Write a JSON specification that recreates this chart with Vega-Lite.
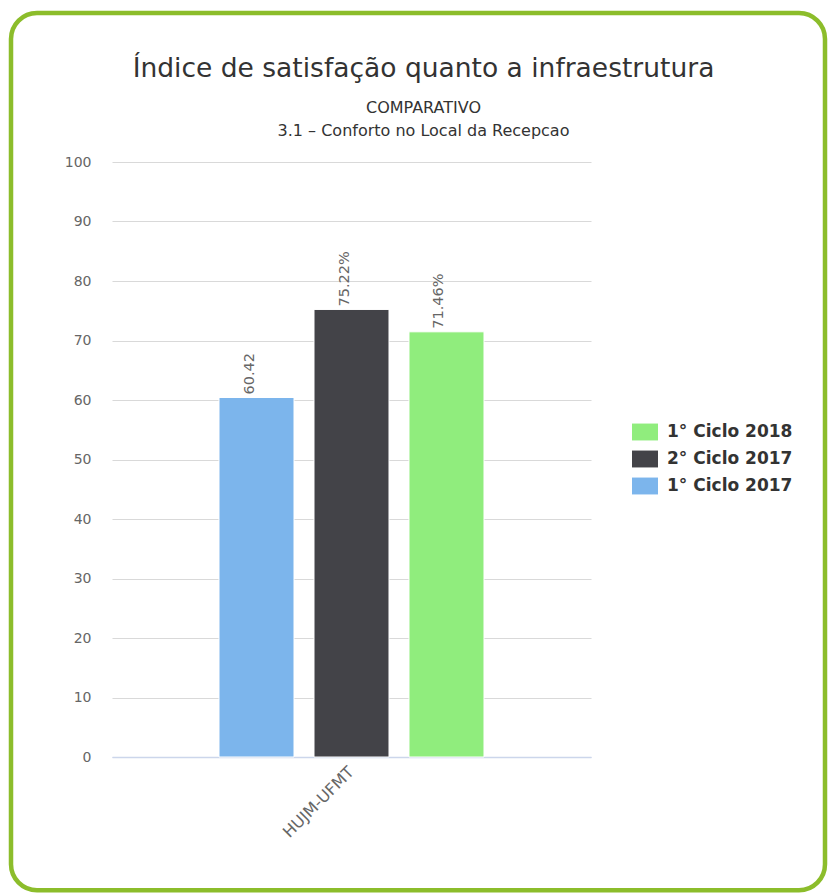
{
  "$schema": "https://vega.github.io/schema/vega-lite/v6.json",
  "width": 479,
  "height": 595,
  "padding": {"left": 8, "top": 10, "right": 0, "bottom": 0},
  "background": "white",
  "title": {
    "text": "Índice de satisfação quanto a infraestrutura",
    "subtitle": ["COMPARATIVO", "3.1 – Conforto no Local da Recepcao"],
    "anchor": "middle",
    "frame": "group",
    "dx": 72,
    "fontSize": 26.5,
    "fontWeight": "normal",
    "color": "#333333",
    "font": "DejaVu Sans",
    "subtitleFont": "DejaVu Sans",
    "subtitleFontSize": 16,
    "subtitleColor": "#333333",
    "subtitleLineHeight": 23,
    "subtitlePadding": 17,
    "offset": -128
  },
  "config": {"view": {"stroke": null}, "font": "DejaVu Sans"},
  "resolve": {"scale": {"x": "independent"}},
  "layer": [
    {
      "data": {"values": [{}]},
      "mark": {"type": "rect", "filled": false, "stroke": "#8cbd2b", "strokeWidth": 4.5, "cornerRadius": 26},
      "encoding": {
        "x": {"datum": -101, "type": "quantitative", "scale": {"domain": [0, 479], "nice": false, "zero": false}, "axis": null},
        "x2": {"datum": 713},
        "y": {
          "datum": 125.04, "type": "quantitative",
          "scale": {"domain": [0, 100], "nice": false},
          "axis": {
            "title": null, "values": [0, 10, 20, 30, 40, 50, 60, 70, 80, 90, 100],
            "domain": false, "ticks": false, "tickSize": 0, "labelPadding": 21,
            "labelFontSize": 14, "labelColor": "#666666", "labelFont": "DejaVu Sans",
            "grid": true, "gridColor": {"condition": {"test": "datum.value === 0", "value": "#ccd6eb"}, "value": "#d9d9d9"}, "gridWidth": 1
          }
        },
        "y2": {"datum": -22.4}
      }
    },
    {
      "data": {
        "values": [
          {"unidade": "HUJM-UFMT", "ciclo": "1° Ciclo 2017", "valor": 60.42, "rotulo": "60.42"},
          {"unidade": "HUJM-UFMT", "ciclo": "2° Ciclo 2017", "valor": 75.22, "rotulo": "75.22%"},
          {"unidade": "HUJM-UFMT", "ciclo": "1° Ciclo 2018", "valor": 71.46, "rotulo": "71.46%"}
        ]
      },
      "encoding": {
        "x": {
          "field": "unidade", "type": "nominal",
          "scale": {"paddingInner": 0, "paddingOuter": 0.3404},
          "axis": {
            "title": null, "domainColor": "#ccd6eb", "domainWidth": 1.5, "ticks": false, "tickSize": 0,
            "labelAngle": -45, "labelAlign": "right", "labelBaseline": "middle",
            "labelFontSize": 16, "labelColor": "#666666", "labelPadding": 12, "grid": false, "labelFont": "DejaVu Sans"
          }
        },
        "xOffset": {
          "field": "ciclo", "type": "nominal",
          "scale": {"domain": ["1° Ciclo 2017", "2° Ciclo 2017", "1° Ciclo 2018"], "paddingInner": 0.2105, "paddingOuter": 0.1053}
        },
        "y": {
          "field": "valor", "type": "quantitative",
          "scale": {"domain": [0, 100], "nice": false},
          "axis": {
            "title": null, "values": [0, 10, 20, 30, 40, 50, 60, 70, 80, 90, 100],
            "domain": false, "ticks": false, "tickSize": 0, "labelPadding": 21,
            "labelFontSize": 14, "labelColor": "#666666", "labelFont": "DejaVu Sans",
            "grid": true, "gridColor": {"condition": {"test": "datum.value === 0", "value": "#ccd6eb"}, "value": "#d9d9d9"}, "gridWidth": 1
          }
        }
      },
      "layer": [
        {
          "mark": {"type": "bar", "stroke": "white", "strokeWidth": 1},
          "encoding": {
            "color": {
              "field": "ciclo", "type": "nominal",
              "scale": {"domain": ["1° Ciclo 2018", "2° Ciclo 2017", "1° Ciclo 2017"], "range": ["#90ed7d", "#434348", "#7cb5ec"]},
              "legend": {
                "orient": "none", "legendX": 520, "legendY": 257, "title": null,
                "symbolType": "M-1,-0.65L1,-0.65L1,0.65L-1,0.65Z", "symbolSize": 676,
                "symbolStrokeWidth": 0, "symbolOpacity": 1,
                "labelFontSize": 17, "labelFontWeight": "bold", "labelColor": "#333333", "labelFont": "DejaVu Sans",
                "rowPadding": 5, "labelOffset": 9, "padding": 0
              }
            }
          }
        },
        {
          "mark": {"type": "text", "angle": -90, "align": "left", "baseline": "bottom", "dx": 3, "fontSize": 14.5, "color": "#666666"},
          "encoding": {"text": {"field": "rotulo", "type": "nominal"}}
        }
      ]
    }
  ]
}
